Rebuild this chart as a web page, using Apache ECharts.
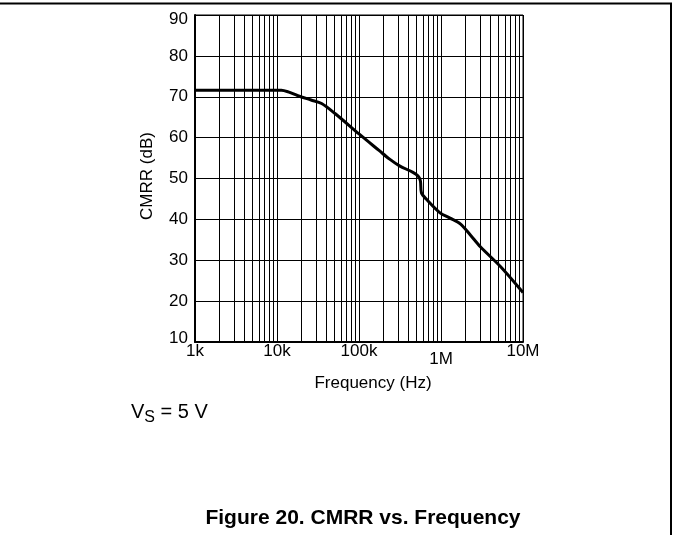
<!DOCTYPE html>
<html>
<head>
<meta charset="utf-8">
<script src="https://cdn.jsdelivr.net/npm/echarts@6/dist/echarts.min.js"></script>
<style>
html,body{margin:0;padding:0;background:#fff;}
#c{width:673px;height:535px;}
</style>
</head>
<body>
<div id="c"></div>
<script>
// Frequency (Hz) and CMRR (dB)
const freq = [1000, 5000, 11300, 13700, 18000, 26000, 35000, 51000, 100000, 177000, 234000, 312000, 455000, 525000, 561000, 577000, 665000, 973000, 1290000, 1720000, 2280000, 3020000, 5340000, 10000000];
const cmrr = [71.6, 71.6, 71.6, 71.2, 70.25, 69.2, 68.35, 65.9, 60.9, 56.8, 54.8, 53.1, 51.5, 50.6, 49.4, 46.5, 44.9, 41.6, 40.3, 38.9, 36.2, 33.3, 28.4, 22.1];
const xTickLabels = {1000: '1k', 10000: '10k', 100000: '100k', 1000000: '1M', 10000000: '10M'};
const yTicks = [10, 20, 30, 40, 50, 60, 70, 80, 90];

const FONT = 'Arial, "Liberation Sans", sans-serif';

// log grid minor lines (2..9 in each decade)
const minorLines = [];
for (let d = 3; d < 7; d++) {
  for (let k = 2; k <= 9; k++) minorLines.push({xAxis: k * Math.pow(10, d)});
}

const chart = echarts.init(document.getElementById('c'), null, {renderer: 'canvas'});
chart.setOption({
  animation: false,
  backgroundColor: '#fff',
  grid: {left: 195, right: 150, top: 15, bottom: 193, show: true, borderColor: '#000', borderWidth: 1, backgroundColor: 'transparent'},
  xAxis: {
    type: 'log', logBase: 10, min: 1000, max: 10000000, interval: 1,
    axisLine: {show: true, lineStyle: {color: '#000', width: 2}},
    axisTick: {show: false},
    splitLine: {show: true, lineStyle: {color: '#000', width: 1}},
    axisLabel: {
      color: '#000', fontSize: 17, fontFamily: FONT, margin: 1,
      formatter: v => {
        const t = xTickLabels[Math.round(v)] || '';
        return t === '1M' ? '{m|1M}' : t;
      },
      rich: {m: {fontSize: 17, fontFamily: FONT, color: '#000', padding: [8, 0, 0, 0]}}
    }
  },
  yAxis: {
    type: 'value', min: 10, max: 90, interval: 10,
    axisLine: {show: true, lineStyle: {color: '#000', width: 2}},
    axisTick: {show: false},
    splitLine: {show: true, lineStyle: {color: '#000', width: 1}},
    axisLabel: {color: '#000', fontSize: 17, fontFamily: FONT, margin: 7,
      formatter: v => {
        if (!yTicks.includes(v)) return '';
        if (v === 90) return '{t|90}';
        if (v === 10) return '{b|10}';
        return String(v);
      },
      rich: {
        t: {fontSize: 17, fontFamily: FONT, color: '#000', padding: [8, 0, 0, 0]},
        b: {fontSize: 17, fontFamily: FONT, color: '#000', padding: [0, 0, 8, 0]}
      }
    }
  },
  series: [{
    type: 'line',
    data: freq.map((f, i) => [f, cmrr[i]]),
    showSymbol: false,
    smooth: 0.3,
    lineStyle: {color: '#000', width: 3},
    z: 5,
    markLine: {
      silent: true, symbol: 'none', label: {show: false},
      lineStyle: {color: '#000', width: 1, type: 'solid'},
      data: minorLines, z: 1
    }
  }],
  graphic: [
    {type: 'line', shape: {x1: 0, y1: 3.5, x2: 672, y2: 3.5}, style: {stroke: '#000', lineWidth: 2}},
    {type: 'line', shape: {x1: 671, y1: 3, x2: 671, y2: 535}, style: {stroke: '#000', lineWidth: 2}},
    {type: 'text', x: 147, y: 176, rotation: Math.PI / 2,
      style: {text: 'CMRR (dB)', font: '17px ' + FONT, fill: '#000', align: 'center', verticalAlign: 'middle'}},
    {type: 'text', x: 373, y: 383,
      style: {text: 'Frequency (Hz)', font: '17px ' + FONT, fill: '#000', align: 'center', verticalAlign: 'middle'}},
    {type: 'text', x: 131, y: 412,
      style: {text: '{a|V}{s|S}{a| = 5 V}', fill: '#000', align: 'left', verticalAlign: 'middle',
        rich: {a: {fontSize: 20, fontFamily: FONT, color: '#000', verticalAlign: 'bottom'},
               s: {fontSize: 16, fontFamily: FONT, color: '#000', verticalAlign: 'bottom', padding: [0, 0, -4, 0]}}}},
    {type: 'text', x: 363, y: 518,
      style: {text: 'Figure 20. CMRR vs. Frequency', font: 'bold 21px ' + FONT, fill: '#000', align: 'center', verticalAlign: 'middle'}}
  ]
});
</script>
</body>
</html>
